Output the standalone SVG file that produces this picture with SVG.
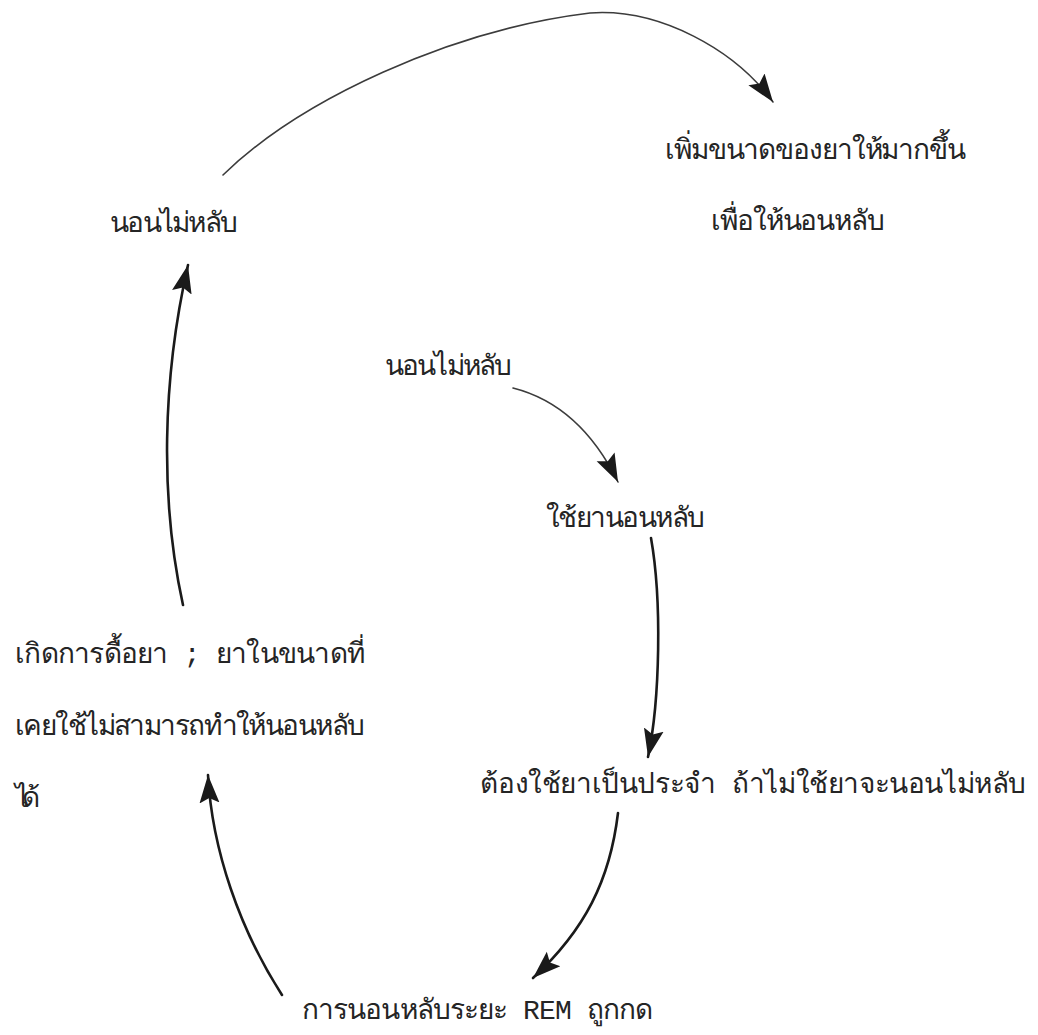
<svg xmlns="http://www.w3.org/2000/svg" width="1038" height="1035" viewBox="0 0 1038 1035">
  <style>
    .lbl { font-family: "Liberation Mono", "Noto Sans", "DejaVu Sans", monospace; font-size: 28px; font-weight: 300; fill: #252525; }
    .edge { fill: none; stroke: #1a1a1a; stroke-width: 2.6; stroke-linecap: round; }
    .edge.thin { stroke: #3c3c3c; stroke-width: 1.6; }
  </style>
  <defs>
    <marker id="head" markerUnits="userSpaceOnUse" markerWidth="30" markerHeight="24" viewBox="0 0 30 24" refX="28" refY="12" orient="auto">
      <path d="M0,2 L28,12 L0,22 L5,12 z" fill="#1a1a1a"/>
    </marker>
  </defs>
  <rect width="1038" height="1035" fill="#ffffff"/>

  <g id="connectors">
    <path class="edge thin" d="M223,175 C300,100 450,30 590,13 C660,8 735,50 773,102" marker-end="url(#head)"/>
    <path class="edge thin" d="M513,388 Q580,405 618,482" marker-end="url(#head)"/>
    <path class="edge" d="M651,538 C662,600 660,700 648,757" marker-end="url(#head)"/>
    <path class="edge" d="M618,813 C610,880 585,930 533,978" marker-end="url(#head)"/>
    <path class="edge" d="M282,995 C240,930 212,850 208,775" marker-end="url(#head)"/>
    <path class="edge" d="M183,605 C160,500 162,380 188,265" marker-end="url(#head)"/>
  </g>

  <g id="node-insomnia-top">
    <text class="lbl" x="110" y="232" textLength="128" lengthAdjust="spacing">นอนไม่หลับ</text>
  </g>
  <g id="node-increase-dose">
    <text class="lbl" x="665" y="159" textLength="301" lengthAdjust="spacing">เพิ่มขนาดของยาให้มากขึ้น</text>
    <text class="lbl" x="711" y="230" textLength="174" lengthAdjust="spacing">เพื่อให้นอนหลับ</text>
  </g>
  <g id="node-insomnia-start">
    <text class="lbl" x="385" y="375" textLength="127" lengthAdjust="spacing">นอนไม่หลับ</text>
  </g>
  <g id="node-take-pills">
    <text class="lbl" x="546" y="527" textLength="159" lengthAdjust="spacing">ใช้ยานอนหลับ</text>
  </g>
  <g id="node-dependence">
    <text class="lbl" x="480" y="793" textLength="546" lengthAdjust="spacing">ต้องใช้ยาเป็นประจำ ถ้าไม่ใช้ยาจะนอนไม่หลับ</text>
  </g>
  <g id="node-tolerance">
    <text class="lbl" x="15" y="663" textLength="350" lengthAdjust="spacing">เกิดการดื้อยา ; ยาในขนาดที่</text>
    <text class="lbl" x="15" y="735" textLength="350" lengthAdjust="spacing">เคยใช้ไม่สามารถทำให้นอนหลับ</text>
    <text class="lbl" x="15" y="807" textLength="25" lengthAdjust="spacing">ได้</text>
  </g>
  <g id="node-rem">
    <text class="lbl" x="302" y="1019" textLength="351" lengthAdjust="spacing">การนอนหลับระยะ REM ถูกกด</text>
  </g>
</svg>
